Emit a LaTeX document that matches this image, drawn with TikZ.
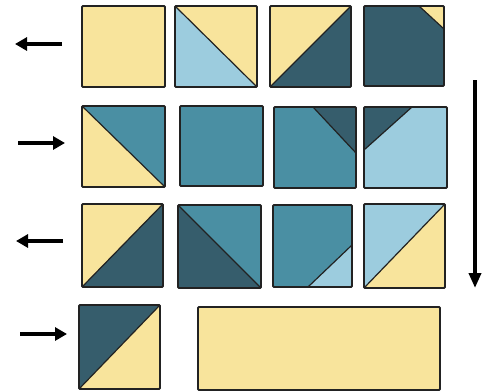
\documentclass[tikz,border=0pt]{standalone}
\usetikzlibrary{arrows.meta}
\definecolor{qyel}{HTML}{F8E49C}
\definecolor{qlb}{HTML}{9CCCDE}
\definecolor{qmid}{HTML}{4A8FA3}
\definecolor{qdark}{HTML}{365D6C}
\definecolor{qline}{HTML}{222222}
\tikzset{
  tileborder/.style={draw=qline, line width=1.8pt, rounded corners=1pt},
  seam/.style={draw=qline, line width=1.2pt},
  dirarrow/.style={line width=4.8pt, -{Triangle[length=12pt,width=13pt]}},
  downarrow/.style={line width=3.6pt, -{Triangle[length=15pt,width=12pt]}}
}
\begin{document}
\begin{tikzpicture}[x=1pt,y=-1pt]
\useasboundingbox (0,0) rectangle (485,391);
% ---------- Row 1 ----------
\fill[qyel] (82,6) rectangle (165,87);
\draw[tileborder] (82,6) rectangle (165,87);
\fill[qyel] (175,6) rectangle (257,87);
\fill[qlb] (175,6) -- (257,87) -- (175,87) -- cycle;
\draw[seam] (175,6) -- (257,87);
\draw[tileborder] (175,6) rectangle (257,87);
\fill[qyel] (270,6) rectangle (351,87);
\fill[qdark] (270,87) -- (351,6) -- (351,87) -- cycle;
\draw[seam] (270,87) -- (351,6);
\draw[tileborder] (270,6) rectangle (351,87);
\fill[qdark] (364,6) rectangle (444,86);
\fill[qyel] (419,6) -- (444,6) -- (444,29) -- cycle;
\draw[seam] (419,6) -- (444,29);
\draw[tileborder] (364,6) rectangle (444,86);
% ---------- Row 2 ----------
\fill[qmid] (82,106) rectangle (165,187);
\fill[qyel] (82,106) -- (165,187) -- (82,187) -- cycle;
\draw[seam] (82,106) -- (165,187);
\draw[tileborder] (82,106) rectangle (165,187);
\fill[qmid] (180,106) rectangle (263,186);
\draw[tileborder] (180,106) rectangle (263,186);
\fill[qmid] (274,107) rectangle (356,188);
\fill[qdark] (313,107) -- (356,107) -- (356,153) -- cycle;
\draw[seam] (313,107) -- (356,153);
\draw[tileborder] (274,107) rectangle (356,188);
\fill[qlb] (364,107) rectangle (447,188);
\fill[qdark] (364,107) -- (412,107) -- (364,150) -- cycle;
\draw[seam] (412,107) -- (364,150);
\draw[tileborder] (364,107) rectangle (447,188);
% ---------- Row 3 ----------
\fill[qyel] (82,204) rectangle (163,287);
\fill[qdark] (82,287) -- (163,204) -- (163,287) -- cycle;
\draw[seam] (82,287) -- (163,204);
\draw[tileborder] (82,204) rectangle (163,287);
\fill[qmid] (178,205) rectangle (261,288);
\fill[qdark] (178,205) -- (261,288) -- (178,288) -- cycle;
\draw[seam] (178,205) -- (261,288);
\draw[tileborder] (178,205) rectangle (261,288);
\fill[qmid] (273,205) rectangle (352,287);
\fill[qlb] (308,287) -- (352,287) -- (352,245) -- cycle;
\draw[seam] (308,287) -- (352,245);
\draw[tileborder] (273,205) rectangle (352,287);
\fill[qlb] (364,204) rectangle (445,288);
\fill[qyel] (364,288) -- (445,204) -- (445,288) -- cycle;
\draw[seam] (364,288) -- (445,204);
\draw[tileborder] (364,204) rectangle (445,288);
% ---------- Row 4 ----------
\fill[qdark] (79,305) rectangle (160,389);
\fill[qyel] (79,389) -- (160,305) -- (160,389) -- cycle;
\draw[seam] (79,389) -- (160,305);
\draw[tileborder] (79,305) rectangle (160,389);
\fill[qyel] (198,307) rectangle (440,390);
\draw[tileborder] (198,307) rectangle (440,390);
% ---------- Direction arrows ----------
\coordinate (a1s) at (62,44);  \coordinate (a1e) at (15,44);
\coordinate (a2s) at (18,143); \coordinate (a2e) at (65,143);
\coordinate (a3s) at (63,241); \coordinate (a3e) at (16,241);
\coordinate (a4s) at (20,334); \coordinate (a4e) at (67,334);
\coordinate (vs) at (475,80);  \coordinate (ve) at (475,288);
\draw[dirarrow] (a1s) -- (a1e);
\draw[dirarrow] (a2s) -- (a2e);
\draw[dirarrow] (a3s) -- (a3e);
\draw[dirarrow] (a4s) -- (a4e);
\draw[downarrow] (vs) -- (ve);
\end{tikzpicture}
\end{document}
